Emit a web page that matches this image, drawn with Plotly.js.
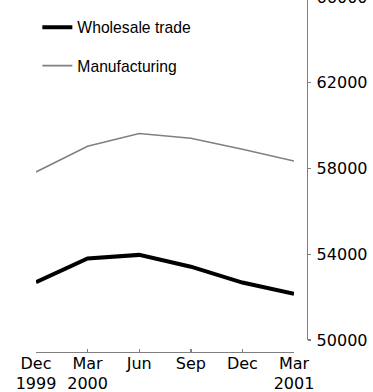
<!DOCTYPE html>
<html>
<head>
<meta charset="utf-8">
<script src="https://cdn.plot.ly/plotly-3.0.1.min.js"></script>
<style>
html,body{margin:0;padding:0;overflow:hidden;background:#fff;width:373px;height:392px;}
#chart{position:absolute;left:0;top:-13px;width:373px;height:405px;}
</style>
</head>
<body>
<div id="chart"></div>
<script>
// Quarters (x categories)
const quarters = ['Dec 1999','Mar 2000','Jun 2000','Sep 2000','Dec 2000','Mar 2001'];
const quarterLabels = ['Dec<br>1999','Mar<br>2000','Jun','Sep','Dec','Mar<br>2001'];
// Series values
const wholesaleTrade = [52700, 53800, 53970, 53420, 52680, 52160];
const manufacturing = [57840, 59040, 59630, 59410, 58900, 58350];
// Y ticks
const yTicks = [50000, 54000, 58000, 62000, 66000];

const idx = quarters.map((q, i) => i);

const traces = [
  {x: idx, y: wholesaleTrade, name: 'Wholesale trade', type: 'scatter', mode: 'lines',
   line: {color: '#000000', width: 4}, legendgroup: 'a'},
  {x: idx, y: manufacturing, name: 'Manufacturing', type: 'scatter', mode: 'lines',
   line: {color: '#808080', width: 1.6}, legendgroup: 'b'}
];

const layout = {
  width: 373, height: 405,
  margin: {l: 36, r: 66, t: 10, b: 40},
  paper_bgcolor: '#fff', plot_bgcolor: '#fff',
  font: {family: '"DejaVu Sans", sans-serif', size: 16, color: '#000'},
  showlegend: true,
  legend: {x: 0.005, y: 0.962, xanchor: 'left', yanchor: 'top', bgcolor: 'rgba(0,0,0,0)',
    font: {family: '"Liberation Sans", Arial, sans-serif', size: 15.7, color: '#000'},
    traceorder: 'grouped', tracegroupgap: 15},
  xaxis: {
    domain: [0, 0.952], range: [0, 5], anchor: 'free', position: 0,
    tickvals: idx, ticktext: quarterLabels,
    showgrid: false, zeroline: false, showline: true, linecolor: '#808080', linewidth: 1.4,
    ticks: 'inside', ticklen: 3, tickcolor: '#808080', tickwidth: 1.4,
    ticklabelstandoff: -4,
    tickfont: {family: '"DejaVu Sans", sans-serif', size: 16, color: '#000'}
  },
  yaxis: {
    domain: [0.0338, 1], range: [50000, 66000], side: 'right', anchor: 'free', position: 1,
    tickvals: yTicks, ticktext: yTicks.map(String),
    showgrid: false, zeroline: false, showline: true, linecolor: '#808080', linewidth: 1.4,
    ticks: 'outside', ticklen: 3, tickcolor: '#808080', tickwidth: 1.4,
    ticklabelstandoff: 2,
    tickfont: {family: '"DejaVu Sans", sans-serif', size: 16, color: '#000'}
  }
};

Plotly.newPlot('chart', traces, layout, {displayModeBar: false, staticPlot: true});
</script>
</body>
</html>
